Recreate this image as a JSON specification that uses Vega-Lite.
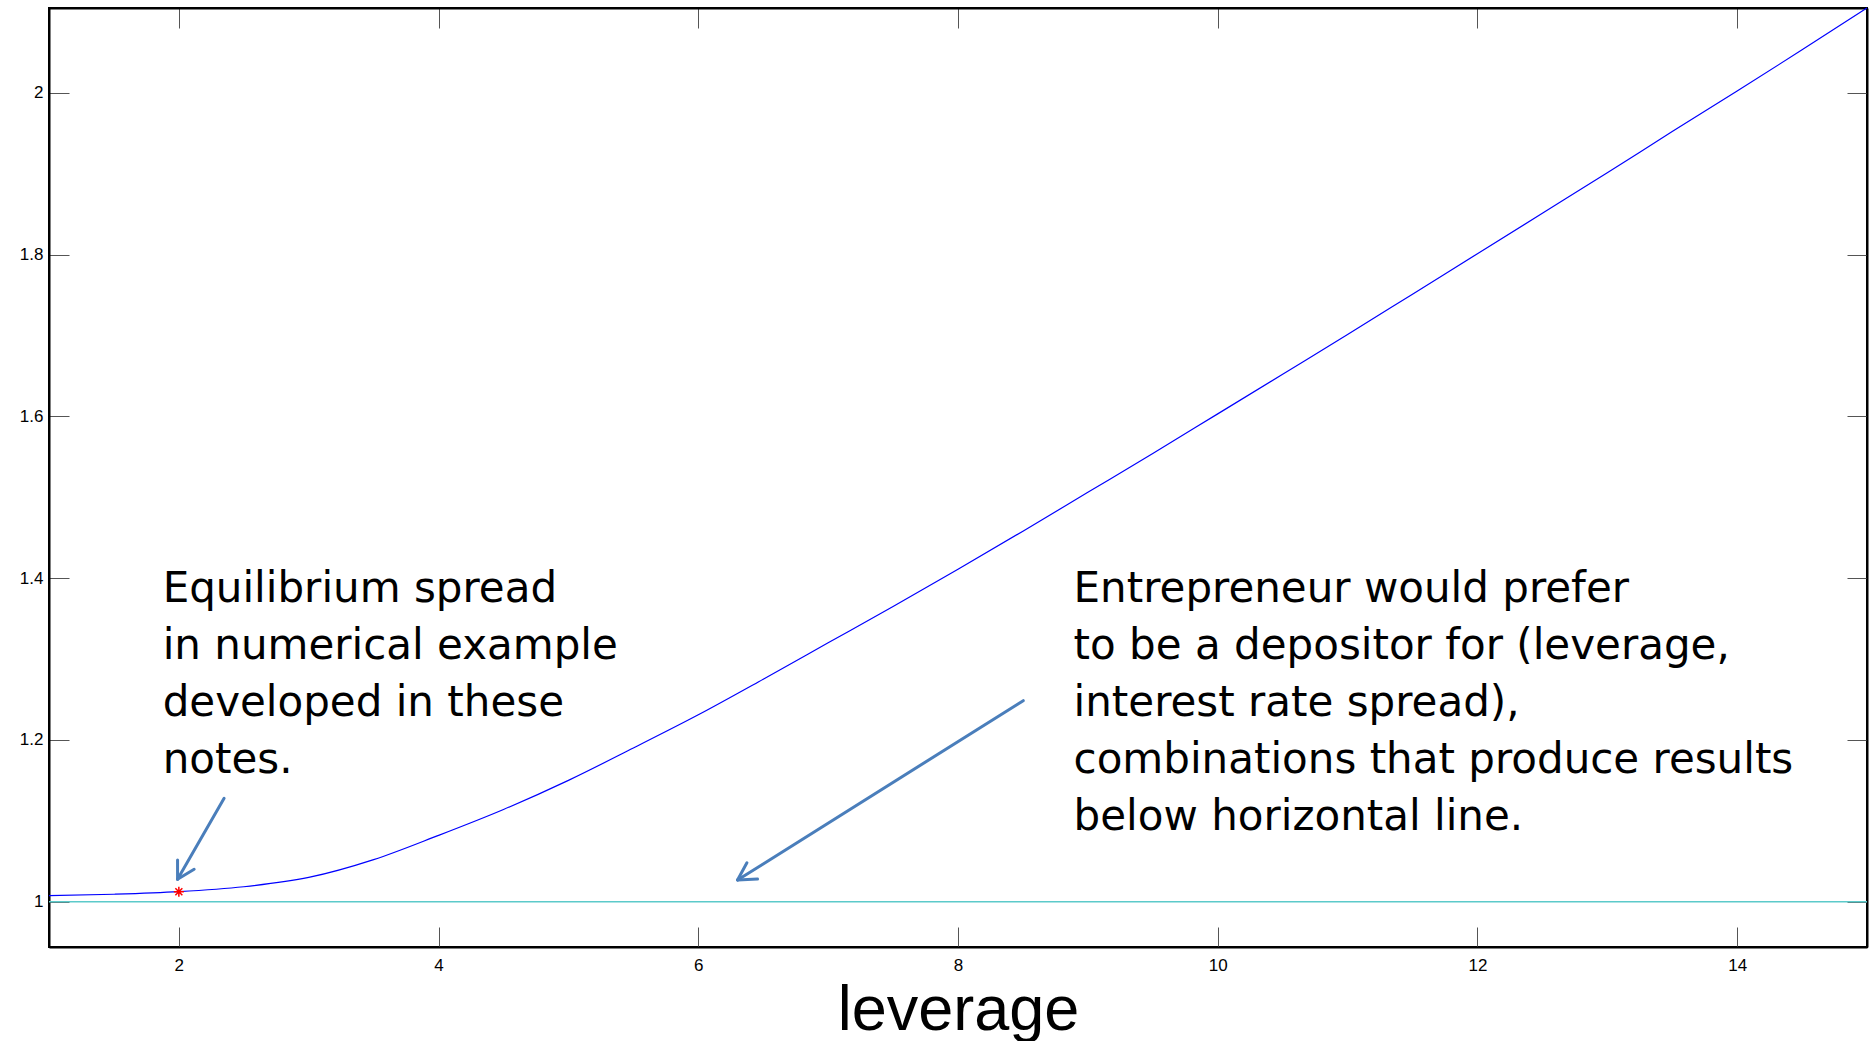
{
  "$schema": "https://vega.github.io/schema/vega-lite/v6.json",
  "width": 1818,
  "height": 939,
  "autosize": "none",
  "padding": {"left": 49, "top": 8, "right": 9, "bottom": 94},
  "background": "white",
  "config": {
    "view": {"stroke": "black", "strokeWidth": 2},
    "font": "Liberation Sans"
  },
  "datasets": {
    "curve": [
      {"leverage": 1, "value": 1.0074},
      {"leverage": 1.5, "value": 1.0092},
      {"leverage": 2, "value": 1.0124},
      {"leverage": 2.5, "value": 1.0185},
      {"leverage": 3, "value": 1.030},
      {"leverage": 3.5, "value": 1.052},
      {"leverage": 4, "value": 1.082},
      {"leverage": 4.5, "value": 1.114},
      {"leverage": 5, "value": 1.150},
      {"leverage": 5.5, "value": 1.190},
      {"leverage": 6, "value": 1.231},
      {"leverage": 6.5, "value": 1.275},
      {"leverage": 7, "value": 1.320},
      {"leverage": 7.5, "value": 1.365},
      {"leverage": 8, "value": 1.411},
      {"leverage": 8.5, "value": 1.458},
      {"leverage": 9, "value": 1.506},
      {"leverage": 9.5, "value": 1.554},
      {"leverage": 10, "value": 1.603},
      {"leverage": 10.5, "value": 1.652},
      {"leverage": 11, "value": 1.701},
      {"leverage": 11.5, "value": 1.751},
      {"leverage": 12, "value": 1.801},
      {"leverage": 12.5, "value": 1.851},
      {"leverage": 13, "value": 1.901},
      {"leverage": 13.5, "value": 1.952},
      {"leverage": 14, "value": 2.002},
      {"leverage": 14.5, "value": 2.053},
      {"leverage": 15, "value": 2.1047}
    ],
    "baseline": [{"value": 1}],
    "equilibrium": [{"leverage": 2, "value": 1.0124}],
    "arrows": [
      {"leverage": 2.3485, "value": 1.1278, "leverage2": 1.99, "value2": 1.0277},
      {"leverage": 1.99, "value": 1.0277, "leverage2": 1.99, "value2": 1.0515},
      {"leverage": 1.99, "value": 1.0277, "leverage2": 2.1177, "value2": 1.0400},
      {"leverage": 8.5023, "value": 1.2485, "leverage2": 6.3023, "value2": 1.0268},
      {"leverage": 6.3023, "value": 1.0268, "leverage2": 6.3746, "value2": 1.0482},
      {"leverage": 6.3023, "value": 1.0268, "leverage2": 6.4562, "value2": 1.0281}
    ],
    "leftNote": [
      {"leverage": 1.875, "value": 1.3708, "text": "Equilibrium spread"},
      {"leverage": 1.875, "value": 1.3003, "text": "in numerical example"},
      {"leverage": 1.875, "value": 1.2297, "text": "developed in these"},
      {"leverage": 1.875, "value": 1.1591, "text": "notes."}
    ],
    "rightNote": [
      {"leverage": 8.89, "value": 1.3708, "text": "Entrepreneur would prefer"},
      {"leverage": 8.89, "value": 1.3003, "text": "to be a depositor for (leverage,"},
      {"leverage": 8.89, "value": 1.2297, "text": "interest rate spread),"},
      {"leverage": 8.89, "value": 1.1591, "text": "combinations that produce results"},
      {"leverage": 8.89, "value": 1.0885, "text": "below horizontal line."}
    ]
  },
  "resolve": {"axis": {"x": "independent", "y": "independent"}},
  "layer": [
    {
      "data": {"name": "baseline"},
      "mark": {"type": "rule", "color": "#5ccaca", "strokeWidth": 1.5},
      "encoding": {
        "y": {"field": "value", "type": "quantitative", "scale": {"domain": [0.944, 2.1047], "nice": false, "zero": false}, "axis": null}
      }
    },
    {
      "data": {"name": "curve"},
      "mark": {"type": "line", "color": "#0000ff", "strokeWidth": 1.2, "interpolate": "monotone"},
      "encoding": {
        "x": {
          "field": "leverage", "type": "quantitative",
          "scale": {"domain": [1, 15], "nice": false, "zero": false},
          "axis": {
            "orient": "bottom", "values": [2, 4, 6, 8, 10, 12, 14],
            "grid": false, "tickSize": -20, "tickColor": "#555555", "tickWidth": 1,
            "domainColor": "black", "domainWidth": 2,
            "labelFont": "Liberation Sans", "labelFontSize": 17, "labelColor": "black",
            "labelPadding": 30, "labelFlush": false,
            "title": "leverage", "titleFont": "Liberation Sans", "titleFontSize": 63,
            "titleFontWeight": "normal", "titleColor": "black",
            "titleY": 82, "titleBaseline": "alphabetic"
          }
        },
        "y": {
          "field": "value", "type": "quantitative",
          "scale": {"domain": [0.944, 2.1047], "nice": false, "zero": false},
          "axis": {
            "orient": "left", "values": [1, 1.2, 1.4, 1.6, 1.8, 2], "format": ".1~f",
            "grid": false, "tickSize": -20, "tickColor": "#555555", "tickWidth": 1,
            "domainColor": "black", "domainWidth": 2,
            "labelFont": "Liberation Sans", "labelFontSize": 17, "labelColor": "black",
            "labelPadding": 26, "labelFlush": false, "title": null
          }
        }
      }
    },
    {
      "data": {"name": "equilibrium"},
      "mark": {"type": "point", "shape": "M-1,0L1,0M0,-1L0,1M-0.7,-0.7L0.7,0.7M-0.7,0.7L0.7,-0.7", "filled": false, "color": "#ff0000", "size": 100, "strokeWidth": 1.5, "opacity": 1},
      "encoding": {
        "x": {
          "field": "leverage", "type": "quantitative",
          "scale": {"domain": [1, 15], "nice": false, "zero": false},
          "axis": {
            "orient": "top", "values": [2, 4, 6, 8, 10, 12, 14], "labels": false,
            "grid": false, "tickSize": -20, "tickColor": "#555555", "tickWidth": 1,
            "domainColor": "black", "domainWidth": 2, "title": null
          }
        },
        "y": {
          "field": "value", "type": "quantitative",
          "scale": {"domain": [0.944, 2.1047], "nice": false, "zero": false},
          "axis": {
            "orient": "right", "values": [1, 1.2, 1.4, 1.6, 1.8, 2], "labels": false,
            "grid": false, "tickSize": -20, "tickColor": "#555555", "tickWidth": 1,
            "domainColor": "black", "domainWidth": 2, "title": null
          }
        }
      }
    },
    {
      "data": {"name": "arrows"},
      "mark": {"type": "rule", "color": "#4a7ebb", "strokeWidth": 3, "strokeCap": "round"},
      "encoding": {
        "x": {"field": "leverage", "type": "quantitative", "scale": {"domain": [1, 15], "nice": false, "zero": false}, "axis": null},
        "y": {"field": "value", "type": "quantitative", "scale": {"domain": [0.944, 2.1047], "nice": false, "zero": false}, "axis": null},
        "x2": {"field": "leverage2"},
        "y2": {"field": "value2"}
      }
    },
    {
      "data": {"name": "leftNote"},
      "mark": {"type": "text", "align": "left", "baseline": "alphabetic", "font": "DejaVu Sans", "fontSize": 42, "color": "black"},
      "encoding": {
        "x": {"field": "leverage", "type": "quantitative", "scale": {"domain": [1, 15], "nice": false, "zero": false}, "axis": null},
        "y": {"field": "value", "type": "quantitative", "scale": {"domain": [0.944, 2.1047], "nice": false, "zero": false}, "axis": null},
        "text": {"field": "text"}
      }
    },
    {
      "data": {"name": "rightNote"},
      "mark": {"type": "text", "align": "left", "baseline": "alphabetic", "font": "DejaVu Sans", "fontSize": 42, "color": "black"},
      "encoding": {
        "x": {"field": "leverage", "type": "quantitative", "scale": {"domain": [1, 15], "nice": false, "zero": false}, "axis": null},
        "y": {"field": "value", "type": "quantitative", "scale": {"domain": [0.944, 2.1047], "nice": false, "zero": false}, "axis": null},
        "text": {"field": "text"}
      }
    }
  ]
}
